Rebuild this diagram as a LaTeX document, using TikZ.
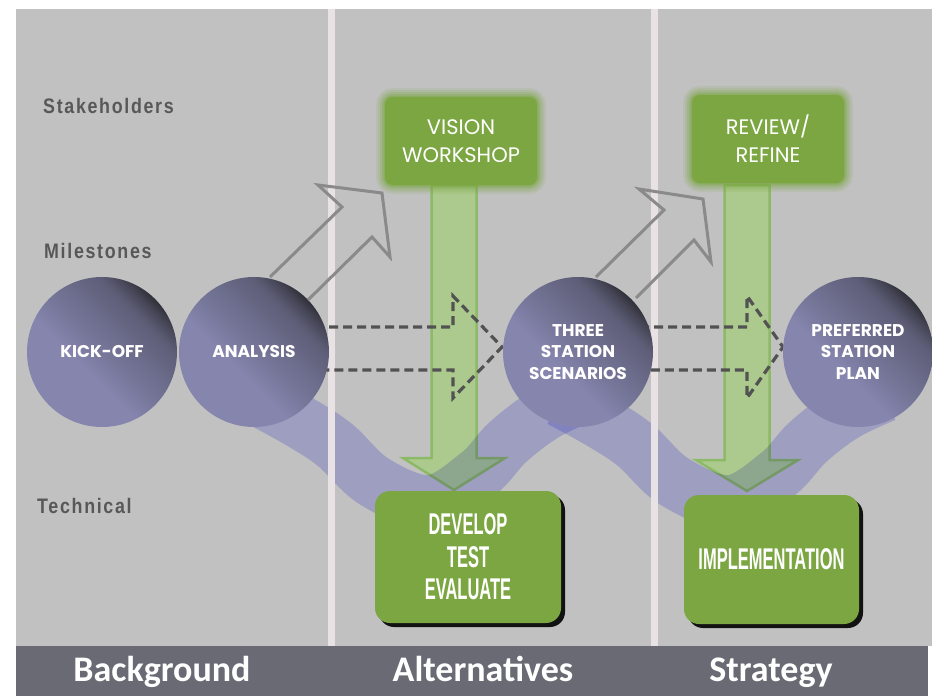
\documentclass[tikz,border=0pt]{standalone}
\usepackage{fontspec}
\setmainfont{Liberation Sans}
\newfontfamily\geofont{Poppins}
\newfontfamily\condfont[FakeStretch=0.55]{Liberation Sans}
\newfontfamily\labfont[FakeStretch=0.85,LetterSpace=8]{Liberation Sans}
\newfontfamily\stripfont{Carlito}
\usetikzlibrary{calc,shadows}
\definecolor{bggray}{RGB}{193,193,193}
\definecolor{sepwhite}{RGB}{232,226,229}
\definecolor{stripgray}{RGB}{106,106,116}
\definecolor{lav}{RGB}{133,133,174}
\definecolor{dk}{RGB}{40,40,46}
\colorlet{dkA}{dk!15!lav}
\colorlet{dkB}{dk!42!lav}
\colorlet{dkC}{dk!65!lav}
\colorlet{dkD}{dk!90!lav}
\definecolor{boxgreen}{RGB}{123,166,66}
\definecolor{arrfill}{RGB}{172,202,142}
\definecolor{arrdraw}{RGB}{141,186,102}
\definecolor{bandmul}{RGB}{210,210,255}
\definecolor{dashgray}{RGB}{82,82,82}
\definecolor{outgray}{RGB}{138,138,138}
\definecolor{labgray}{RGB}{88,88,88}
\pgfdeclarehorizontalshading{diagball}{100bp}{color(0bp)=(lav);color(42bp)=(lav);color(50bp)=(dkA);color(67bp)=(dkB);color(71.5bp)=(dkC);color(75bp)=(dkD);color(100bp)=(dkD)}
\newcommand\greenblock[4]{\filldraw[garrow] (#1-22.5,#2) -- (#1-22.5,#3) -- (#1-51,#3) -- (#1,#4) -- (#1+51,#3) -- (#1+22.5,#3) -- (#1+22.5,#2) -- cycle;}
\newcommand\dashblock[3]{\draw[dasharrow] (#1,327) -- (#2,327) -- (#2,296) -- (#3,347) -- (#2,398) -- (#2,370) -- (#1,370);}
\begin{document}
\begin{tikzpicture}[x=1pt,y=-1pt,
  milestone/.style={circle, minimum size=150pt, inner sep=0pt, text=white, align=center,
    font=\geofont\bfseries\fontsize{17}{21.5}\selectfont,
    shade, shading=diagball, shading angle=45},
  topbox/.style={fill=boxgreen, rounded corners=8pt, minimum width=152pt, minimum height=88pt, inner sep=0pt,
    text=white, align=center, font=\geofont\fontsize{21}{28}\selectfont,
    preaction={draw=boxgreen, line width=18pt, draw opacity=0.12},
    preaction={draw=boxgreen, line width=14pt, draw opacity=0.15},
    preaction={draw=boxgreen, line width=10pt, draw opacity=0.2},
    preaction={draw=boxgreen, line width=6pt, draw opacity=0.3},
    preaction={draw=boxgreen, line width=2.5pt, draw opacity=0.4}},
  botbox/.style={fill=boxgreen, rounded corners=15pt, inner sep=0pt, text=white, align=center,
    font=\condfont\bfseries\fontsize{30}{32.5}\selectfont,
    drop shadow={shadow xshift=4pt, shadow yshift=-4pt, fill=black, opacity=0.9}},
  garrow/.style={fill=arrfill, draw=arrdraw, line width=2.5pt, line join=miter},
  band/.style={draw=bandmul, line width=54pt, line cap=butt},
  sepline/.style={draw=sepwhite, line width=7pt},
  dasharrow/.style={draw=dashgray, line width=3.2pt, dash pattern=on 9pt off 5pt, line join=miter},
  outarrow/.style={draw=outgray, line width=3pt, line join=miter},
  lbl/.style={text=labgray, font=\labfont\bfseries\fontsize{21}{24}\selectfont, inner sep=0pt, anchor=base west},
  striplbl/.style={text=white, font=\stripfont\bfseries\fontsize{36}{40}\selectfont, inner sep=0pt, anchor=base}
]
\useasboundingbox (0,0) rectangle (932,696);
\fill[white] (0,0) rectangle (932,696);
\fill[bggray] (16,9) rectangle (932,646);

% green downward arrows
\greenblock{454}{185}{458}{490}
\greenblock{747}{185}{460}{491}

% technical band (multiply)
\begin{scope}[blend mode=multiply]
\draw[band] plot[smooth, tension=0.6] coordinates {(260,400) (300,422) (335,445) (375,482) (430,502) (478,474) (508,442) (545,414) (585,395)};
\draw[band] plot[smooth, tension=0.6] coordinates {(560,400) (600,422) (635,445) (675,482) (730,502) (778,474) (808,442) (845,414) (885,395)};
\end{scope}

% separators
\draw[sepline] (331.5,9) -- (331.5,646);
\draw[sepline] (654,9) -- (654,646);

% dashed block arrows
\dashblock{315}{453}{502}
\dashblock{640}{747}{783}

% milestones
\node[milestone] (ko) at (102,352) {KICK-OFF};
\node[milestone] (an) at (254,352) {ANALYSIS};
\node[milestone] (th) at (578,352) {THREE\\STATION\\SCENARIOS};
\node[milestone] (pr) at (858,352) {PREFERRED\\STATION\\PLAN};

% outline arrows up-right
\draw[outarrow] (270,277) -- (342,207) -- (318,185) -- (382,193) -- (390,257) -- (372,237) -- (308,300);
\draw[outarrow] (596,277) -- (664,210) -- (639,189) -- (703,199) -- (711,262) -- (694,240) -- (636,298);

% stakeholder boxes
\node[topbox] (vw) at (461,141) {VISION\\WORKSHOP};
\node[topbox] (rr) at (768,139) {REVIEW/\\REFINE};

% technical boxes
\node[botbox, minimum width=186pt, minimum height=132pt] (dt) at (468,557) {DEVELOP\\TEST\\EVALUATE};
\node[botbox, minimum width=175pt, minimum height=129pt] (im) at (771.5,559.5) {IMPLEMENTATION};

% row labels
\node[lbl] (lsh) at (43,113) {Stakeholders};
\node[lbl] (lms) at (44,258) {Milestones};
\node[lbl] (lte) at (37,513) {Technical};

% bottom strip
\fill[stripgray] (16,646) rectangle (928,696);
\node[striplbl] (sbg) at (162,681) {Background};
\node[striplbl] (sal) at (483,681) {Alternatives};
\node[striplbl] (sst) at (771,681) {Strategy};
\end{tikzpicture}
\end{document}
